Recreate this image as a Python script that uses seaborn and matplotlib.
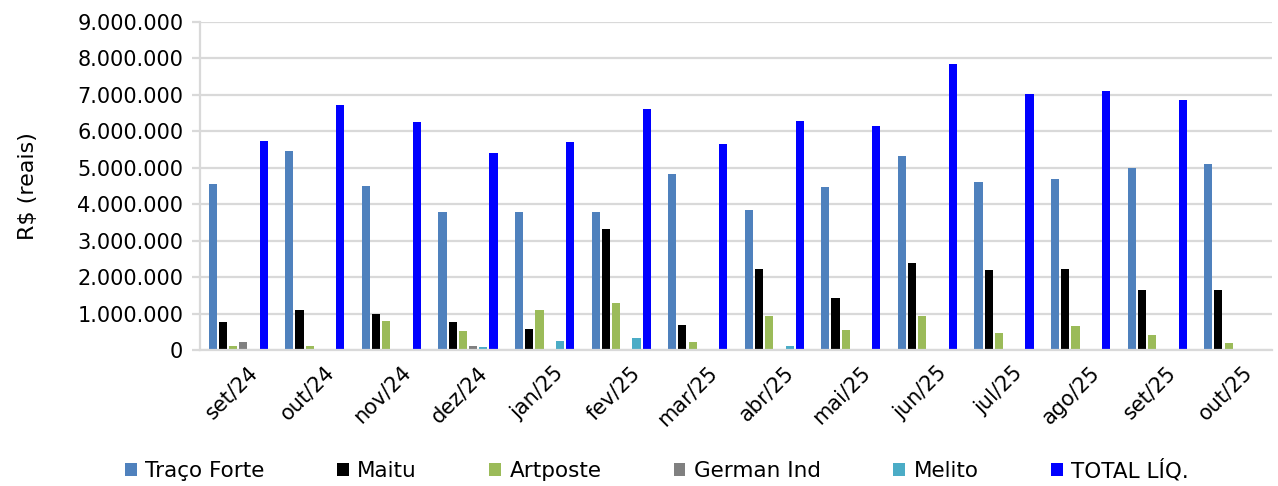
import numpy as np
import pandas as pd
import matplotlib
matplotlib.use("Agg")
import matplotlib.pyplot as plt
import matplotlib.ticker as mticker
import matplotlib.transforms as mtransforms
import seaborn as sns

MESES = ["set/24", "out/24", "nov/24", "dez/24", "jan/25", "fev/25", "mar/25",
         "abr/25", "mai/25", "jun/25", "jul/25", "ago/25", "set/25", "out/25"]

traco_forte = [4560000, 5450000, 4500000, 3780000, 3780000, 3790000, 4830000,
               3840000, 4470000, 5320000, 4610000, 4680000, 4990000, 5100000]
maitu       = [770000, 1100000, 980000, 770000, 570000, 3330000, 680000,
               2210000, 1440000, 2390000, 2190000, 2210000, 1660000, 1660000]
artposte    = [110000, 110000, 790000, 520000, 1090000, 1280000, 210000,
               940000, 560000, 940000, 470000, 670000, 420000, 190000]
german_ind  = [230000, 0, -40000, 120000, 0, 0, 0, 0, 0, 0, 0, 0, 0, 0]
melito      = [0, 0, 0, 90000, 240000, 320000, 0, 120000, 0, 0, 0, 0, 0, 0]
total_liq   = [5730000, 6710000, 6250000, 5400000, 5720000, 6610000, 5640000,
               6280000, 6150000, 7840000, 7020000, 7100000, 6860000, np.nan]

SERIES = ["Traço Forte", "Maitu", "Artposte", "German Ind", "Melito", "TOTAL LÍQ."]
CORES  = ["#4F81BD", "#000000", "#9BBB59", "#808080", "#4BACC6", "#0000FF"]

# ─────────────────────────────────────────────────────────────────────────────
valores = [traco_forte, maitu, artposte, german_ind, melito, total_liq]
df = pd.DataFrame({
    "mes":   MESES * len(SERIES),
    "serie": [s for s in SERIES for _ in MESES],
    "valor": [v for vals in valores for v in vals],
})

sns.set_style("white")
plt.rcParams["font.family"] = ["DejaVu Sans"]
plt.rcParams["text.color"] = "black"
plt.rcParams["xtick.labelcolor"] = "black"
plt.rcParams["ytick.labelcolor"] = "black"
plt.rcParams["axes.labelcolor"] = "black"

fig = plt.figure(figsize=(12.78, 4.86), dpi=100)
ax = fig.add_axes([200 / 1278, 1 - 350 / 486, 1072 / 1278, 328 / 486])

sns.barplot(data=df, x="mes", y="valor", hue="serie", order=MESES,
            hue_order=SERIES, palette=CORES, saturation=1, width=0.8, gap=0.2,
            errorbar=None, linewidth=0, ax=ax)

ax.set_ylim(0, 9_000_000)
ax.set_xlim(-0.5, len(MESES) - 0.5)
ax.yaxis.set_major_locator(mticker.MultipleLocator(1_000_000))
ax.yaxis.set_major_formatter(
    mticker.FuncFormatter(lambda v, _: f"{v:,.0f}".replace(",", ".")))
ax.grid(axis="y", color="#d9d9d9", linewidth=1.6)
ax.set_axisbelow(True)

for side in ["top", "right"]:
    ax.spines[side].set_visible(False)
for side in ["left", "bottom"]:
    ax.spines[side].set_color("#d9d9d9")
    ax.spines[side].set_linewidth(1.6)

# Excel-style tick marks between categories
ax.set_xticks(np.arange(-0.5, len(MESES)), minor=True)
ax.tick_params(axis="x", which="minor", length=8, width=1.6, color="#d9d9d9")
ax.tick_params(axis="x", which="major", length=0, pad=14, labelsize=15)
ax.tick_params(axis="y", length=6, width=1.6, color="#d9d9d9", pad=6,
               labelsize=15, left=True)
shift = mtransforms.ScaledTranslation(0.16, 0, fig.dpi_scale_trans)
for lbl in ax.get_xticklabels():
    lbl.set_rotation(45)
    lbl.set_ha("right")
    lbl.set_rotation_mode("anchor")
    lbl.set_va("center")
    lbl.set_transform(lbl.get_transform() + shift)

for p in ax.patches:
    p.set_clip_on(False)

ax.set_xlabel("")
ax.set_ylabel("R$ (reais)", fontsize=16)
ax.yaxis.set_label_coords(-0.151, 0.5)

handles, labels = ax.get_legend_handles_labels()
ax.get_legend().remove()
fig.legend(handles, labels, loc="center", bbox_to_anchor=(0.514, 0.033),
           ncol=6, frameon=False, fontsize=15.5, handlelength=0.55,
           handleheight=0.55, handletextpad=0.4, columnspacing=3.35)

fig.savefig("out.png", dpi=100)
plt.close(fig)
